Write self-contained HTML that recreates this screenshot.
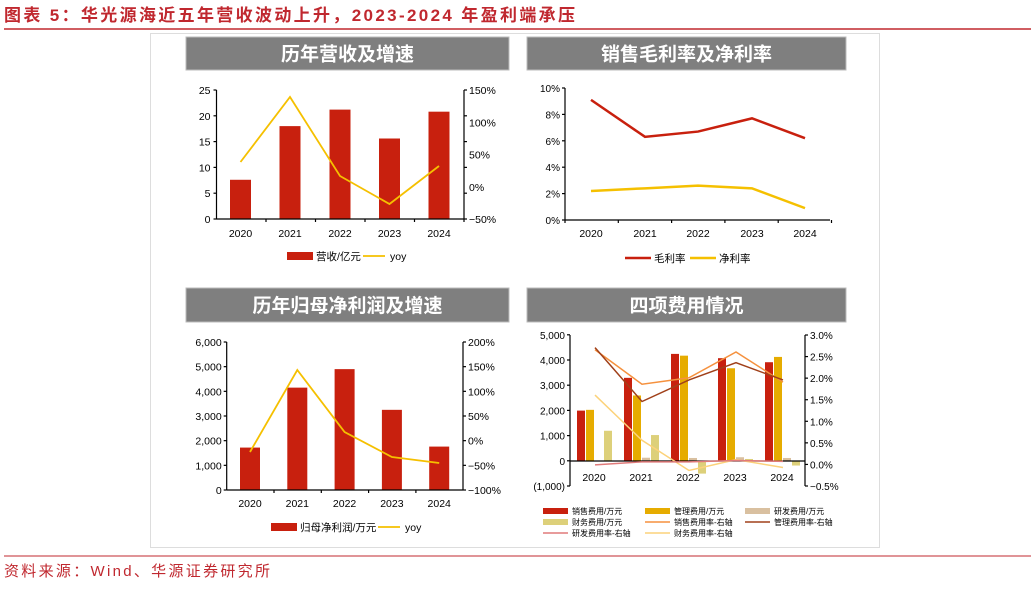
<!DOCTYPE html>
<html><head><meta charset="utf-8"><style>
body{margin:0;background:#fff;width:1031px;height:584px;overflow:hidden}
svg{font-family:"Liberation Sans","Noto Sans CJK SC",sans-serif}
</style></head><body>
<svg id="s" width="1031" height="584" xmlns="http://www.w3.org/2000/svg">
<text x="4" y="21" font-size="17" font-weight="bold" fill="#c0282f" textLength="571" lengthAdjust="spacing">图表 5：华光源海近五年营收波动上升，2023-2024 年盈利端承压</text>
<line x1="4" y1="29" x2="1031" y2="29" stroke="#c0282f" stroke-width="1.5"/>
<rect x="150.5" y="33.5" width="729" height="514" fill="none" stroke="#ddd"/>
<line x1="4" y1="556" x2="1031" y2="556" stroke="#c0282f" stroke-width="1"/>
<text x="4" y="576" font-size="15" fill="#c0282f" textLength="266" lengthAdjust="spacing">资料来源：Wind、华源证券研究所</text>
<g id="g"></g>
</svg>
<script>
const g=document.getElementById('g');let h='';
const R='#c8200e',Y='#f5c000';
function hdr(x1,x2,y1,y2,t){h+=`<rect x="${x1}" y="${y1}" width="${x2-x1}" height="${y2-y1}" fill="#7f7f7f" stroke="#bbb"/><text x="${(x1+x2)/2}" y="${(y1+y2)/2+7}" font-size="19" font-weight="bold" fill="#fff" text-anchor="middle">${t}</text>`;}
function L(x1,y1,x2,y2,c='#000',w=1.2){h+=`<line x1="${x1}" y1="${y1}" x2="${x2}" y2="${y2}" stroke="${c}" stroke-width="${w}"/>`;}
function T(x,y,t,a='middle',s=10.5,c='#000'){h+=`<text x="${x}" y="${y}" font-size="${s}" text-anchor="${a}" fill="${c}">${t}</text>`;}
function P(pts,c,w=1.8){h+=`<polyline points="${pts.map(p=>p.join(',')).join(' ')}" fill="none" stroke="${c}" stroke-width="${w}"/>`;}
const yrs=['2020','2021','2022','2023','2024'];
hdr(186,509,37,70,'历年营收及增速');
{const ax=216.5,bx=464,y0=219,k=5.16;const xs=[240.5,290,340,389.5,439];
[7.6,18,21.2,15.6,20.8].forEach((v,i)=>h+=`<rect x="${xs[i]-10.5}" y="${y0-v*k}" width="21" height="${v*k}" fill="${R}"/>`);
L(ax,90,ax,y0);L(ax,y0,bx,y0);L(bx,90,bx,y0+3);
for(let i=0;i<=5;i++){const y=y0-i*25.8;L(ax-3,y,ax,y);T(ax-6,y+4,i*5,'end');L(bx,y,bx+3,y);}
for(let i=0;i<5;i++){const y=y0-i*32.25;T(bx+5,y+4,['−50%','0%','50%','100%','150%'][i],'start');}
for(let i=1;i<5;i++)L(216.5+i*49.5,219,216.5+i*49.5,222);
xs.forEach((x,i)=>T(x,237,yrs[i]));
P([[240.5,162],[290,97],[340,176],[389.5,204],[439,166]],Y);
h+=`<rect x="287" y="252" width="26" height="8" fill="${R}"/>`;T(316,260,'营收/亿元','start');L(363,256,385,256,Y,1.8);T(390,260,'yoy','start');}
hdr(527,846,37,70,'销售毛利率及净利率');
{const ax=565,y0=220,k=13.2;const xs=[591,645,698,752,805];
L(ax,88,ax,y0);L(ax,y0,830,y0);
for(let i=0;i<=5;i++){const y=y0-i*2*k;L(ax-3,y,ax,y);T(ax-5,y+4,(i*2)+'%','end',10);}
for(let i=0;i<=5;i++)L(ax+i*53.3,y0,ax+i*53.3,y0+3);
xs.forEach((x,i)=>T(x,237,yrs[i]));
P([9.1,6.3,6.7,7.7,6.2].map((v,i)=>[xs[i],y0-v*k]),'#c8200e',2.5);
P([2.2,2.4,2.6,2.4,0.9].map((v,i)=>[xs[i],y0-v*k]),Y,2.5);
L(625,258,651,258,'#c8200e',2.5);T(654,262,'毛利率','start');L(690,258,716,258,Y,2.5);T(719,262,'净利率','start');}
hdr(186,509,288,322,'历年归母净利润及增速');
{const ax=226.7,bx=463,y0=490,k=148/6000;const xs=[250,297.3,344.6,391.9,439.2];
[1720,4150,4900,3250,1760].forEach((v,i)=>h+=`<rect x="${xs[i]-10}" y="${y0-v*k}" width="20" height="${v*k}" fill="${R}"/>`);
L(ax,342,ax,y0);L(ax,y0,bx,y0);L(bx,342,bx,y0);
const ry=['−100%','−50%','0%','50%','100%','150%','200%'];
for(let i=0;i<=6;i++){const y=y0-i*148/6;L(ax-3,y,ax,y);T(ax-5,y+4,(i*1000).toLocaleString('en-US'),'end');L(bx,y,bx+3,y);T(bx+5,y+4,ry[i],'start');}
for(let i=1;i<5;i++)L(ax+i*47.3,y0,ax+i*47.3,y0+3);
xs.forEach((x,i)=>T(x,507,yrs[i]));
P([[250,452],[297.3,370],[344.6,432],[391.9,457],[439.2,463]],Y);
h+=`<rect x="271" y="523" width="26" height="8" fill="${R}"/>`;T(300,531,'归母净利润/万元','start');L(378,527,400,527,Y,1.8);T(405,531,'yoy','start');}
hdr(527,846,288,322,'四项费用情况');
{const ax=570,bx=805,y0=461,k=25.2/1000,ry0=464,rk=43.1;
const st=[577,624,671,718,765];
const S=[2000,3300,4250,4080,3920],M=[2030,2600,4180,3680,4130],D=[0,130,120,150,120],F=[1200,1030,-500,80,-180];
function bar(x,v,c){const y=v>=0?y0-v*k:y0;h+=`<rect x="${x}" y="${y}" width="8" height="${Math.abs(v*k)}" fill="${c}"/>`;}
st.forEach((s,i)=>{bar(s,S[i],R);bar(s+9,M[i],'#e6ac00');bar(s+18,D[i],'#d9c0a0');bar(s+27,F[i],'#ddd07a');});
L(ax,335,ax,486);L(ax,y0,bx,y0);L(bx,335,bx,486);
const ly=['(1,000)','0','1,000','2,000','3,000','4,000','5,000'];
for(let i=0;i<=6;i++){const y=486-i*25.2;L(ax-3,y,ax,y);T(ax-5,y+4,ly[i],'end',10);}
const rl=['−0.5%','0.0%','0.5%','1.0%','1.5%','2.0%','2.5%','3.0%'];
for(let i=0;i<=7;i++){const y=486-i*21.57;L(bx,y,bx+3,y);T(bx+5,y+4,rl[i],'start',10);}
st.forEach((s,i)=>T(s+17,481,yrs[i]));
const lx=st.map(s=>s+18);const rp=a=>a.map((v,i)=>[lx[i],ry0-v*rk]);
P(rp([1.6,0.55,-0.15,0.1,-0.08]),'#fcd27a',1.5);
P(rp([-0.02,0.05,0.05,0.08,0.06]),'#e07a7a',1.5);
P(rp([2.65,1.85,2.0,2.6,1.9]),'#f5913e',1.5);
P(rp([2.7,1.45,1.95,2.35,1.95]),'#a0401a',1.5);
const lg=[[543,511,'rect',R,'销售费用/万元'],[645,511,'rect','#e6ac00','管理费用/万元'],[745,511,'rect','#d9c0a0','研发费用/万元'],[543,522,'rect','#ddd07a','财务费用/万元'],[645,522,'line','#f5913e','销售费用率-右轴'],[745,522,'line','#a0401a','管理费用率-右轴'],[543,533,'line','#e07a7a','研发费用率-右轴'],[645,533,'line','#fcd27a','财务费用率-右轴']];
lg.forEach(([x,y,t,c,s])=>{if(t=='rect')h+=`<rect x="${x}" y="${y-3}" width="25" height="6" fill="${c}"/>`;else L(x,y,x+25,y,c,1.5);T(x+29,y+3,s,'start',8);});}
g.innerHTML=h;
</script>
</body></html>
